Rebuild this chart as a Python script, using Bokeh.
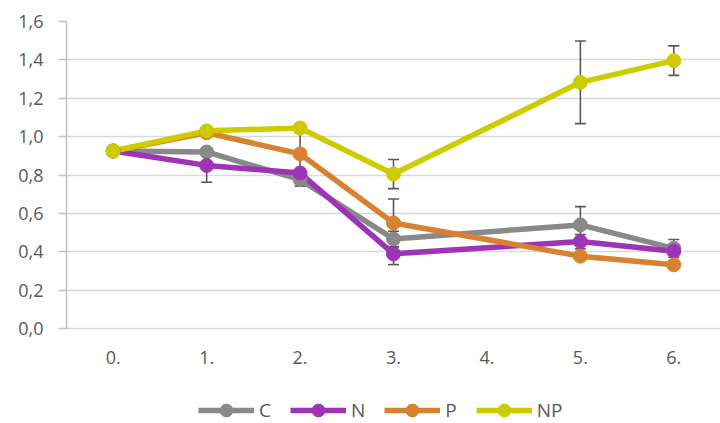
from bokeh.plotting import figure
from bokeh.models import Range1d, FixedTicker, Legend, LegendItem, Whisker, ColumnDataSource, TeeHead, CustomJSTickFormatter
from bokeh.core.properties import value
from bokeh.embed import file_html
from bokeh.resources import INLINE

categories = ["0.", "1.", "2.", "3.", "4.", "5.", "6."]
x_cats = ["0.", "1.", "2.", "3.", "5.", "6."]

C = [0.925, 0.92, 0.776, 0.467, 0.54, 0.418]
N = [0.925, 0.85, 0.81, 0.389, 0.453, 0.403]
P = [0.925, 1.02, 0.91, 0.55, 0.377, 0.332]
NP = [0.925, 1.03, 1.045, 0.805, 1.283, 1.396]

C_err = [0, 0, 0.035, 0.04, 0.095, 0.046]
N_err = [0, 0.088, 0, 0.056, 0.037, 0]
P_err = [0, 0, 0.11, 0.125, 0, 0]
NP_err = [0, 0, 0, 0.076, 0.215, 0.077]

y_ticks = [0.0, 0.2, 0.4, 0.6, 0.8, 1.0, 1.2, 1.4, 1.6]

series = [
    ("C", C, C_err, "#898989"),
    ("N", N, N_err, "#9E33B7"),
    ("P", P, P_err, "#D7822F"),
    ("NP", NP, NP_err, "#CCCC00"),
]

FONT = "Open Sans"
TXT = "#595959"

xs = [categories.index(c) for c in x_cats]

# layout: plot area from y=21 px (1.6) to y=328 px (0.0); space below holds tick labels and legend
W, H = 720, 423
TOP, ZERO_PX = 21, 328
y_min = -(H - ZERO_PX) / (ZERO_PX - TOP) * y_ticks[-1]

p = figure(width=W, height=H, output_backend="svg", toolbar_location=None,
           x_range=Range1d(-0.5, len(categories) - 0.5), y_range=Range1d(y_min, y_ticks[-1]),
           x_axis_location=None,
           min_border_left=66, min_border_right=0, min_border_top=TOP, min_border_bottom=0)
p.outline_line_color = None
p.background_fill_color = "white"
p.border_fill_color = "white"
p.xgrid.grid_line_color = None

p.yaxis.ticker = FixedTicker(ticks=y_ticks)
p.yaxis.bounds = (y_ticks[0], y_ticks[-1])
p.yaxis.formatter = CustomJSTickFormatter(code="return tick.toFixed(1).replace('.', ',');")
p.yaxis.major_tick_out = 8
p.yaxis.major_tick_in = 0
p.yaxis.minor_tick_line_color = None
p.yaxis.major_tick_line_color = "#bfbfbf"
p.yaxis.axis_line_color = "#bfbfbf"
p.yaxis.axis_line_width = 1.5
p.yaxis.major_tick_line_width = 1.5
p.yaxis.major_label_text_font = FONT
p.yaxis.major_label_text_font_size = "18px"
p.yaxis.major_label_text_color = TXT
p.yaxis.major_label_standoff = 15
p.ygrid.grid_line_color = "#d9d9d9"
p.ygrid.grid_line_width = 1.5

# category tick labels under the zero line
p.text(x=list(range(len(categories))), y=[0] * len(categories), text=categories,
       text_font=value(FONT), text_font_size="18px", text_color=TXT,
       text_align="center", text_baseline="top", y_offset=22)

line_rs = {}
for name, vals, errs, col in series:
    line_rs[name] = p.line(xs, vals, line_color=col, line_width=5.5)

for name, vals, errs, col in series:
    bx, lo, hi = [], [], []
    for x, v, e in zip(xs, vals, errs):
        if e > 0:
            bx.append(x); lo.append(v - e); hi.append(v + e)
    if bx:
        src = ColumnDataSource(dict(x=bx, lower=lo, upper=hi))
        w = Whisker(source=src, base="x", lower="lower", upper="upper",
                    line_color="#595959", line_width=1.6,
                    upper_head=TeeHead(size=11, line_color="#595959", line_width=1.6),
                    lower_head=TeeHead(size=11, line_color="#595959", line_width=1.6))
        p.add_layout(w)

mark_rs = {}
for name, vals, errs, col in series:
    mark_rs[name] = p.scatter(xs, vals, size=14, fill_color=col, line_color=col)

items = [LegendItem(label=name, renderers=[line_rs[name], mark_rs[name]]) for name, _, _, _ in series]
legend = Legend(items=items, orientation="horizontal", location=(132, -3),
                glyph_width=56, glyph_height=32, label_standoff=5, spacing=19, label_width=0,
                padding=0, margin=0, border_line_color=None, background_fill_alpha=0,
                label_text_font=FONT, label_text_font_size="19px", label_text_color=TXT)
p.add_layout(legend, "center")

open("out.html", "w").write(file_html(p, INLINE))
